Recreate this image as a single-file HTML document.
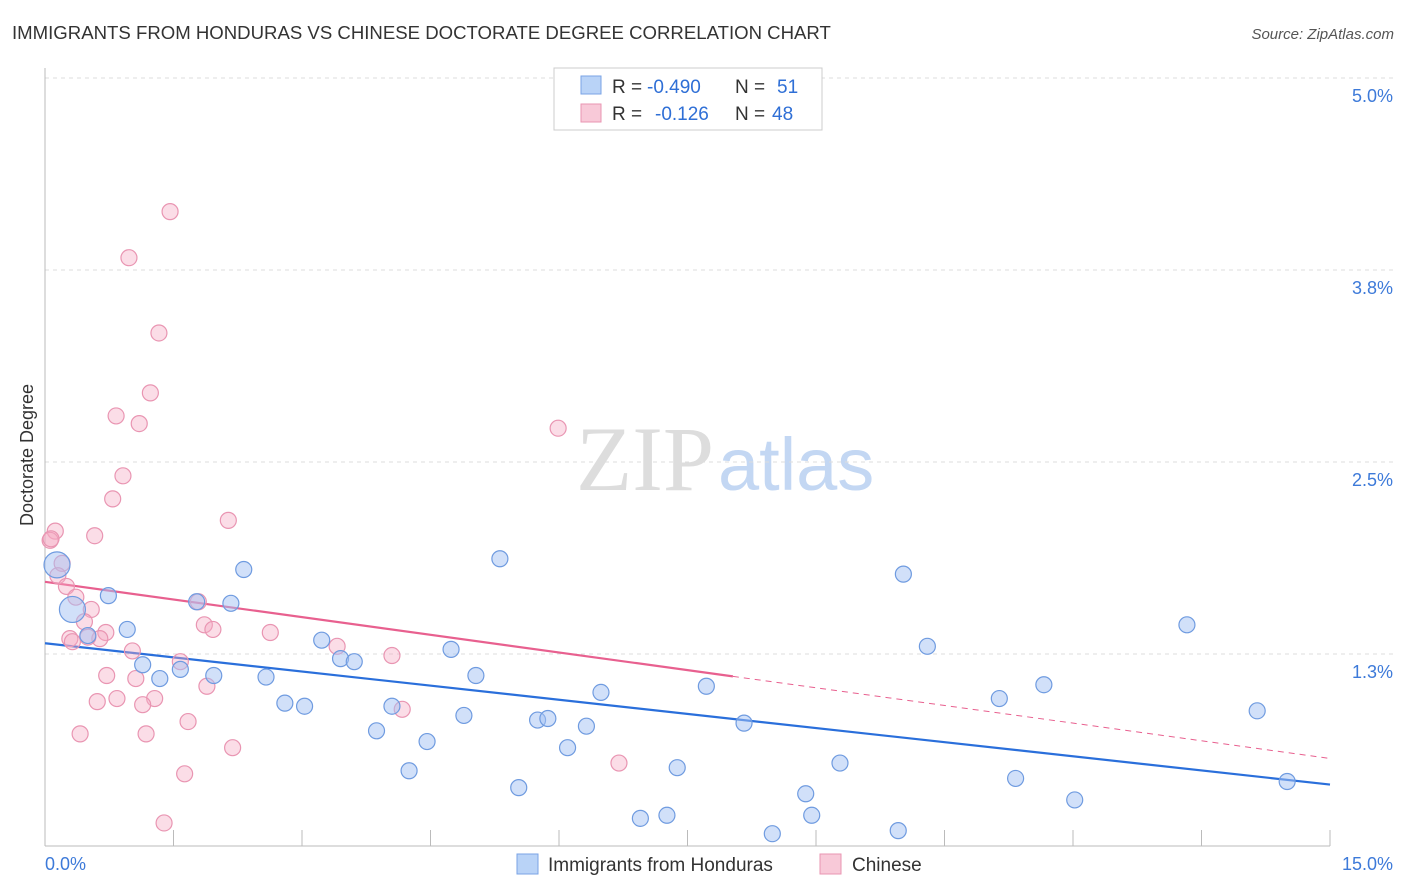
<!DOCTYPE html>
<html><head><meta charset="utf-8"><style>
body{margin:0;background:#fff;font-family:"Liberation Sans",sans-serif;}
svg{display:block}
</style></head><body>
<svg id="chart" width="1406" height="892">
<text x="12" y="39" font-size="18.6" fill="#333">IMMIGRANTS FROM HONDURAS VS CHINESE DOCTORATE DEGREE CORRELATION CHART</text>
<text x="1394" y="39" font-size="15" fill="#555" font-style="italic" text-anchor="end">Source: ZipAtlas.com</text>
<text x="714" y="490" font-size="92" fill="#ddd" font-family="Liberation Serif" text-anchor="end">ZIP</text>
<text x="718" y="490" font-size="74" fill="#c3d7f3">atlas</text>
<text transform="translate(33,455) rotate(-90)" font-size="18" fill="#333" text-anchor="middle">Doctorate Degree</text>
<g id="grid"></g><g id="axes"></g><g id="lines"></g><g id="pts"></g>
<g>
<rect x="554" y="68" width="268" height="62" fill="#fff" stroke="#ccc"/>
<rect x="581" y="76" width="20" height="18" fill="#b9d3f7" stroke="#7aa3e5"/>
<rect x="581" y="104" width="20" height="18" fill="#f8c9d8" stroke="#e995b2"/>
<text y="93" font-size="19" fill="#333"><tspan x="612">R =</tspan><tspan x="647" fill="#2f6fd6">-0.490</tspan><tspan x="735">N =</tspan><tspan x="777" fill="#2f6fd6">51</tspan></text>
<text y="120" font-size="19" fill="#333"><tspan x="612">R =</tspan><tspan x="655" fill="#2f6fd6">-0.126</tspan><tspan x="735">N =</tspan><tspan x="772" fill="#2f6fd6">48</tspan></text>
</g>
<g>
<rect x="517" y="854" width="21" height="20" fill="#b9d3f7" stroke="#7aa3e5"/>
<text x="548" y="871" font-size="19" fill="#333">Immigrants from Honduras</text>
<rect x="820" y="854" width="21" height="20" fill="#f8c9d8" stroke="#e995b2"/>
<text x="852" y="871" font-size="19" fill="#333">Chinese</text>
</g>
</svg>
<script>
const blueX=[0.14,0.32,0.50,0.74,0.96,1.14,1.34,1.58,1.77,1.97,2.17,2.32,2.58,2.80,3.03,3.23,3.45,3.61,3.87,4.05,4.25,4.46,4.74,4.89,5.03,5.31,5.53,5.75,5.87,6.10,6.32,6.49,6.95,7.26,7.38,7.72,8.16,8.49,8.88,8.95,9.28,9.96,10.02,10.30,11.14,11.33,11.66,12.02,13.33,14.15,14.50];
const blueY=[1.83,1.54,1.37,1.63,1.41,1.18,1.09,1.15,1.59,1.11,1.58,1.80,1.10,0.93,0.91,1.34,1.22,1.20,0.75,0.91,0.49,0.68,1.28,0.85,1.11,1.87,0.38,0.82,0.83,0.64,0.78,1.00,0.18,0.20,0.51,1.04,0.80,0.08,0.34,0.20,0.54,0.10,1.77,1.30,0.96,0.44,1.05,0.30,1.44,0.88,0.42];
const pinkX=[1.46,0.98,1.33,1.23,0.83,1.10,5.99,0.91,0.79,2.14,0.12,0.58,0.06,0.20,0.15,0.25,0.36,0.54,1.79,0.46,1.86,0.29,1.96,2.63,0.71,0.64,0.32,3.41,1.02,1.58,4.05,0.72,1.06,1.89,0.61,0.84,1.28,1.14,4.17,1.67,0.41,1.18,2.19,6.70,1.63,1.39,0.50,0.07];
const pinkY=[4.13,3.83,3.34,2.95,2.80,2.75,2.72,2.41,2.26,2.12,2.05,2.02,1.99,1.84,1.76,1.69,1.62,1.54,1.59,1.46,1.44,1.35,1.41,1.39,1.39,1.35,1.33,1.30,1.27,1.20,1.24,1.11,1.09,1.04,0.94,0.96,0.96,0.92,0.89,0.81,0.73,0.73,0.64,0.54,0.47,0.15,1.36,2.00];
const blueTrend=[1.32,0.40];
const pinkTrend=[1.72,0.57];
const pinkSolidEnd=8.03;
const yTicks=[1.25,2.5,3.75,5.0];
const yTickLabels=["1.3%","2.5%","3.8%","5.0%"];
const xTickCount=10;
const xMax=15;
const NS="http://www.w3.org/2000/svg";
const X=v=>45+v/xMax*1285;
const Y=v=>846-v/1.25*192;
function mk(parent,tag,attrs){const e=document.createElementNS(NS,tag);for(const k in attrs)e.setAttribute(k,attrs[k]);document.getElementById(parent).appendChild(e);return e;}
yTicks.forEach((t,i)=>{
 const g=mk('grid','line',{x1:45,x2:1394,y1:Y(t),y2:Y(t),stroke:'#ddd','stroke-dasharray':'4,4'});
 
 
 const l=mk('axes','text',{x:1393,y:Y(t)+24,'font-size':18,fill:'#3d7ad9','text-anchor':'end'});
 l.textContent=yTickLabels[i];
 
 
});
const ax=mk('axes','line',{x1:45,x2:1330,y1:846,y2:846,stroke:'#bbb'});


const ay=mk('axes','line',{x1:45,x2:45,y1:68,y2:846,stroke:'#bbb'});


for(let i=1;i<=xTickCount;i++){
 const t=mk('axes','line',{x1:X(i*xMax/xTickCount),x2:X(i*xMax/xTickCount),y1:830,y2:846,stroke:'#bbb'});
 
 
}
const xl0=mk('axes','text',{x:45,y:870,'font-size':18,fill:'#3d7ad9'});xl0.textContent="0.0%";


const xl1=mk('axes','text',{x:1393,y:870,'font-size':18,fill:'#3d7ad9','text-anchor':'end'});xl1.textContent="15.0%";


const pv=x=>pinkTrend[0]+(pinkTrend[1]-pinkTrend[0])*x/xMax;
pinkX.forEach((x,i)=>{
 const c=mk('pts','circle',{cx:X(x),cy:Y(pinkY[i]),r:8,fill:'rgba(244,170,195,0.4)',stroke:'#e995b2','stroke-width':1.2});
 
 
});
blueX.forEach((x,i)=>{
 const c=mk('pts','circle',{cx:X(x),cy:Y(blueY[i]),r:i<2?13:8,fill:'rgba(164,194,244,0.5)',stroke:'#6f9be0','stroke-width':1.2});
 
 
});
const bl=mk('lines','line',{x1:X(0),y1:Y(blueTrend[0]),x2:X(xMax),y2:Y(blueTrend[1]),stroke:'#2a6fdb','stroke-width':2.2});


const pl=mk('lines','line',{x1:X(0),y1:Y(pv(0)),x2:X(pinkSolidEnd),y2:Y(pv(pinkSolidEnd)),stroke:'#e8608f','stroke-width':2.2});


const pd=mk('lines','line',{x1:X(pinkSolidEnd),y1:Y(pv(pinkSolidEnd)),x2:X(xMax),y2:Y(pv(xMax)),stroke:'#e8608f','stroke-width':1,'stroke-dasharray':'6,5'});


</script>
</body></html>
